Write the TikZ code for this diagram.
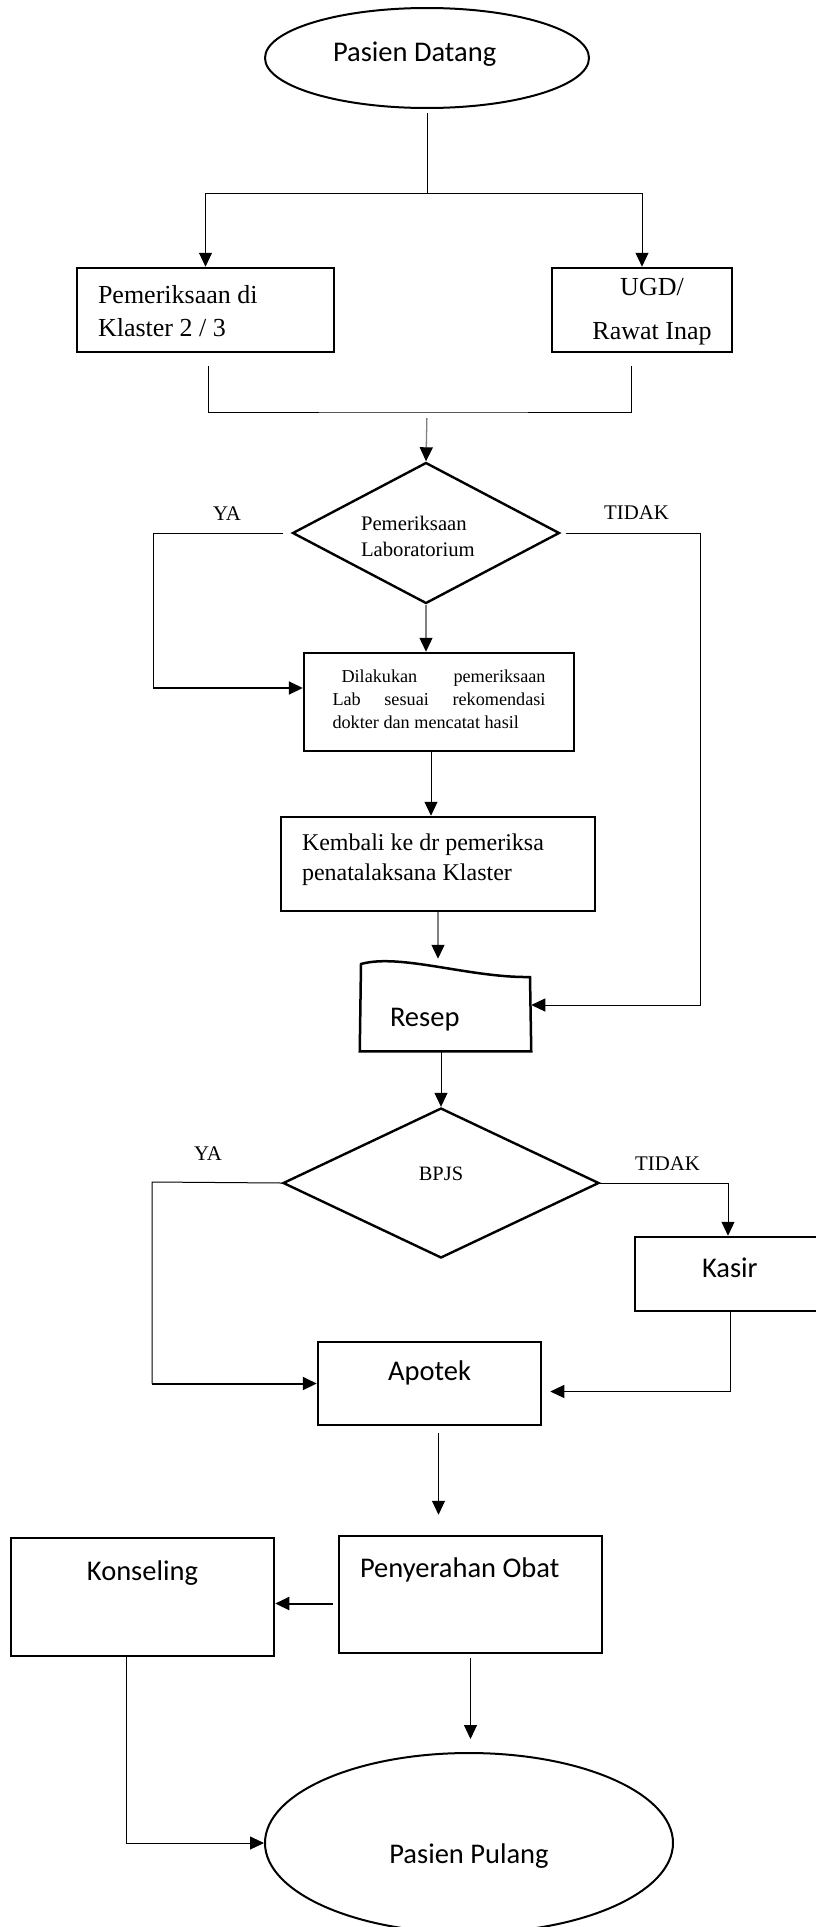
\documentclass[tikz,border=0pt]{standalone}
\usepackage{fontspec}
\setmainfont{Liberation Serif}
\newfontfamily\calibri{Carlito}
\usetikzlibrary{arrows.meta}
\usetikzlibrary{shapes.geometric}
\tikzstyle{box}=[draw,line width=2.5pt,inner ysep=0pt,inner xsep=4pt]
\tikzstyle{decision}=[diamond,draw,line width=2.4pt,inner sep=0pt]
\tikzstyle{terminal}=[ellipse,draw,line width=2pt,inner sep=0pt]
\tikzstyle{wire}=[line width=1pt]
\tikzstyle{flow}=[line width=1pt,-{Triangle[width=13pt,length=14pt]}]
\tikzstyle{greyflow}=[line width=1.3pt,draw=gray,-{Triangle[width=13pt,length=14pt,color=black]}]
\tikzstyle{sans}=[font={\calibri\fontsize{28.5}{34}\selectfont}]
\tikzstyle{answer}=[inner sep=0pt,font={\fontsize{20.8}{25}\selectfont}]

\begin{document}
\begin{tikzpicture}[x=1pt,y=-1pt]
  \path[use as bounding box,fill=white] (0,0) rectangle (815,1927);

  % Start and the two services.
  \node[terminal,sans,minimum width=324pt,minimum height=100pt,
    text width=188pt,align=flush left,text height=20pt,text depth=12pt]
    (datang) at (427,58) {Pasien Datang};
  \node[box,font={\fontsize{26}{33}\selectfont},minimum width=257pt,
    text width=215pt,align=flush left,text height=35pt,text depth=49pt]
    (klaster) at (205.5,310) {Pemeriksaan di\\Klaster 2 / 3};
  \node[box,font={\fontsize{26}{44}\selectfont},minimum width=180pt,
    text width=160pt,align=flush center,text height=27pt,text depth=57pt]
    (ugd) at (642,310) {\hspace*{20pt}UGD/\\\hspace*{20pt}Rawat Inap};

  % Laboratory.
  \node[decision,aspect=1.9,minimum width=267pt,minimum height=141pt,
    font={\fontsize{20.7}{26}\selectfont},text width=130pt,align=flush left,
    text height=25pt,text depth=31pt]
    (lab) at (426,533) {Pemeriksaan\\Laboratorium};
  \node[box,font={\fontsize{18.2}{23}\selectfont},minimum width=270pt,
    text width=213pt,align=flush left,text height=29pt,text depth=69pt]
    (dilakukan) at (439,702)
    {\hspace*{9pt}\hbox to 204pt{Dilakukan\hfill pemeriksaan}\\
     \leavevmode\hbox to 213pt{Lab\hfill sesuai\hfill rekomendasi}\\
     dokter dan mencatat hasil};
  \node[box,font={\fontsize{24}{30}\selectfont},minimum width=314pt,
    text width=272pt,align=flush left,text height=33pt,text depth=61pt]
    (kembali) at (438,864) {Kembali ke dr pemeriksa\\penatalaksana Klaster};

  % Prescription.
  \node[sans,inner ysep=0pt,outer sep=1.25pt,minimum width=169pt,
    text width=111pt,align=flush left,text height=66pt,text depth=24pt]
    (resep) at (445.5,1005) {Resep};
  \draw[line width=2.5pt] (resep.south west) -- (361,964)
    .. controls (400,953) and (470,978) .. (530,977)
    -- (resep.south east) -- cycle;

  % Payment.
  \node[decision,aspect=2.1,minimum width=316pt,minimum height=150pt,
    font={\fontsize{20.4}{25}\selectfont},text height=15pt,text depth=21pt]
    (bpjs) at (441,1183) {BPJS};
  \node[box,sans,minimum width=200pt,text width=66pt,align=flush left,
    text height=40pt,text depth=34pt]
    (kasir) at (735,1274) {Kasir};
  \node[box,sans,minimum width=223pt,text height=38pt,text depth=45pt]
    (apotek) at (429.5,1383.5) {Apotek};

  % Hand over and finish.
  \node[box,sans,minimum width=263pt,text width=221pt,align=flush left,
    text height=41pt,text depth=76pt]
    (penyerahan) at (470.5,1594.5) {Penyerahan Obat};
  \node[box,sans,minimum width=263pt,text height=42pt,text depth=76pt]
    (konseling) at (142.5,1597) {Konseling};
  \node[terminal,sans,minimum width=408pt,minimum height=180pt,
    text height=50pt,text depth=10pt]
    (pulang) at (469,1843) {Pasien Pulang};

  % Decision labels.
  \node[answer,anchor=base west] (ya lab) at (213,520) {YA};
  \node[answer,anchor=base west] (tidak lab) at (604,519) {TIDAK};
  \node[answer,anchor=base west] (ya bpjs) at (194,1160) {YA};
  \node[answer,anchor=base west] (tidak bpjs) at (635,1170) {TIDAK};

  % Bends.
  \coordinate (split) at (427,193);
  \coordinate (merge) at (427,412);
  \coordinate (ya lab bend) at (153,533);
  \coordinate (tidak lab bend) at (700,533);
  \coordinate (ya bpjs bend) at (152,1182);
  \coordinate (dil in) at ([yshift=14pt]dilakukan.west);
  \coordinate (apo back) at ([yshift=-8pt]apotek.east);

  % Top connectors.
  \draw[wire,shorten <=4pt] (datang) -- (split);
  \draw[flow] (split) -| (klaster.north);
  \draw[flow] (split) -| (ugd.north);
  \draw[wire,shorten <=13pt,shorten >=13pt]
    ([xshift=3pt]klaster.south) |- (merge) -| ([xshift=-11pt]ugd.south);
  \draw[greyflow,shorten <=6pt] (merge) -- (lab.north);

  % Laboratory connectors.
  \draw[greyflow] (lab.south) -- (lab.south |- dilakukan.north);
  \draw[wire,shorten <=8pt] (lab.west) -- (ya lab bend)
    -- (ya lab bend |- dil in);
  \draw[flow,line width=2pt] (ya lab bend |- dil in) -- (dil in);
  \draw[flow,shorten <=5pt] (lab.east) -- (tidak lab bend) |- (resep.east);
  \draw[flow] ([xshift=-8pt]dilakukan.south)
    -- ([xshift=-8pt]dilakukan.south |- kembali.north);
  \draw[greyflow] (kembali.south) -- (kembali.south |- resep.north);

  % Payment connectors.
  \draw[flow] (bpjs.north |- resep.south) -- (bpjs.north);
  \draw[wire] (bpjs.west) -- (ya bpjs bend) -- (ya bpjs bend |- apotek.west);
  \draw[flow,line width=2pt] (ya bpjs bend |- apotek.west) -- (apotek.west);
  \draw[flow] (bpjs.east) -| ([xshift=-7pt]kasir.north);
  \draw[flow,shorten >=8pt] ([xshift=-5pt]kasir.south) |- (apo back);

  % Bottom connectors.
  \draw[flow,shorten <=7pt,shorten >=20pt] ([xshift=9pt]apotek.south)
    -- ([xshift=9pt]apotek.south |- penyerahan.north);
  \draw[flow,line width=2pt,shorten <=5pt] ([yshift=-9pt]penyerahan.west)
    -- ([yshift=-9pt]penyerahan.west -| konseling.east);
  \draw[flow,shorten <=4pt,shorten >=13pt] (penyerahan.south)
    -- (penyerahan.south |- pulang.north);
  \draw[flow] ([xshift=-16pt]konseling.south) |- (pulang.west);
\end{tikzpicture}
\end{document}
